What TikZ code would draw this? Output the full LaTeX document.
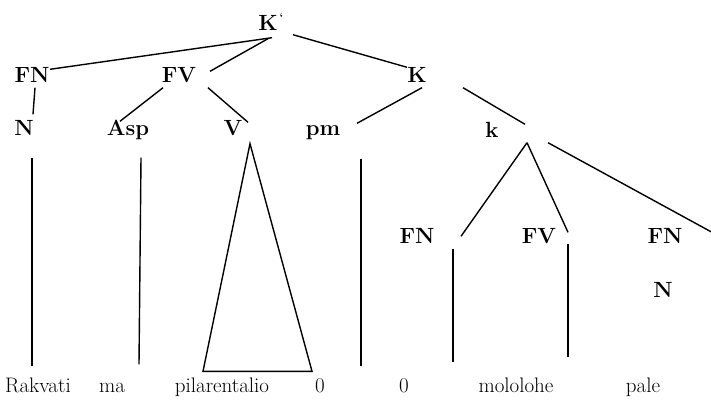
\documentclass[tikz,border=0pt]{standalone}
\usepackage{tikz}

\begin{document}
\begin{tikzpicture}[x=1pt, y=-1pt, line width=1.4pt,
  cat/.style={anchor=base, inner sep=0pt, text height=15pt, text depth=0pt,
    font=\fontsize{22}{22}\selectfont\bfseries},
  leaf/.style={anchor=base, inner sep=0pt, text height=14pt, text depth=4pt,
    font=\fontsize{21}{21}\selectfont}]
\useasboundingbox (0,0) rectangle (711,408);

% category labels
\node[cat] (Kp) at (268,30) {K\rlap{\hspace{2pt}\raisebox{9pt}{\fontsize{12}{12}\selectfont\textquoteleft}}};
\node[cat] (FNa) at (32,82) {FN};
\node[cat] (FVa) at (179,82) {FV};
\node[cat] (Kb) at (417,82) {K};
\node[cat] (Na) at (24,135) {N};
\node[cat] (Asp) at (128,135) {Asp};
\node[cat] (V) at (233,135) {V};
\node[cat] (pm) at (323,135) {pm};
\node[cat] (kk) at (492,137) {k};
\node[cat] (FNb) at (417,243) {FN};
\node[cat] (FVb) at (539,243) {FV};
\node[cat] (FNc) at (665,243) {FN};
\node[cat] (Nc) at (663,297) {N};

% words
\node[leaf] (w1) at (38,392) {Rakvati};
\node[leaf] (w2) at (112,392) {ma};
\node[leaf] (w3) at (222,392) {pilarentalio};
\node[leaf] (w4) at (320,392) {0};
\node[leaf] (w5) at (404,392) {0};
\node[leaf] (w6) at (516,392) {mololohe};
\node[leaf] (w7) at (643,392) {pale};

% branches
\draw ([xshift=4pt,yshift=-7pt]Kp.south) -- ([xshift=18pt,yshift=-3pt]FNa.north);
\draw ([yshift=-8pt]Kp.south) -- ([xshift=31pt,yshift=-5pt]FVa.north);
\draw ([xshift=25pt,yshift=-4pt]Kp.south) -- ([xshift=-10pt,yshift=-1pt]Kb.north);
\draw ([xshift=3pt,yshift=-5pt]FNa.south) -- ([xshift=9pt,yshift=5pt]Na.north);
\draw ([xshift=-16pt,yshift=-5pt]FVa.south) -- ([xshift=-8pt,yshift=-2pt]Asp.north);
\draw ([xshift=29pt,yshift=-5pt]FVa.south) -- ([xshift=15pt,yshift=-3pt]V.north);
\draw ([xshift=5pt,yshift=-5pt]Kb.south) -- ([xshift=34pt,yshift=-4pt]pm.north);
\draw ([xshift=46pt,yshift=-5pt]Kb.south) -- ([xshift=33pt,yshift=-3pt]kk.north);
\draw ([xshift=35pt,yshift=-5pt]kk.south) -- ([xshift=44pt,yshift=-9pt]FNb.north);
\draw ([xshift=35pt,yshift=-5pt]kk.south) -- ([xshift=29pt,yshift=-5pt]FVb.north);
\draw ([xshift=56pt,yshift=-5pt]kk.south) -- ([xshift=47pt,yshift=-5pt]FNc.north);

% down to the words
\draw ([xshift=8pt,yshift=-22pt]Na.south) -- ([xshift=-6pt,yshift=11pt]w1.north);
\draw ([xshift=13pt,yshift=-22pt]Asp.south) -- ([xshift=27pt,yshift=13pt]w2.north);
\draw ([xshift=17pt,yshift=-8pt]V.south) -- ([xshift=-19pt,yshift=6pt]w3.north)
  -- ([xshift=90pt,yshift=6pt]w3.north) -- cycle;
\draw ([xshift=38pt,yshift=-23pt]pm.south) -- ([xshift=41pt,yshift=11pt]w4.north);
\draw ([xshift=36pt,yshift=-5pt]FNb.south) -- ([xshift=49pt,yshift=15pt]w5.north);
\draw ([xshift=29pt]FVb.south) -- ([xshift=52pt,yshift=20pt]w6.north);
\end{tikzpicture}
\end{document}
